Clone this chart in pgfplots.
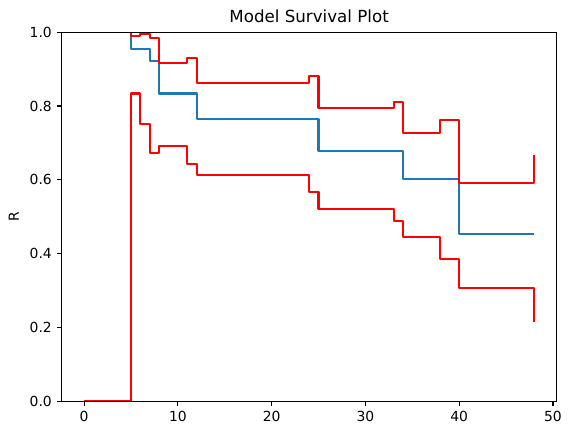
\documentclass[border=0pt]{standalone}
\usepackage{pgfplots}
\pgfplotsset{compat=1.18}
\usepackage{fontspec}
\setmainfont{DejaVu Sans}
\definecolor{mplblue}{HTML}{1F77B4}
\begin{document}
\begin{tikzpicture}
\begin{axis}[
  scale only axis,
  width=356.4pt, height=265.5pt,
  xmin=-2.4, xmax=50.4, ymin=0, ymax=1,
  xtick={0,10,20,30,40,50},
  ytick={0,0.2,0.4,0.6,0.8,1.0},
  yticklabel style={/pgf/number format/.cd,fixed,fixed zerofill,precision=1},
  /pgf/number format/assume math mode=true,
  tick align=outside,
  major tick length=3.5pt,
  tick style={black, line width=0.8pt},
  axis line style={line width=0.8pt},
  tick label style={font=\fontsize{10}{12}\selectfont},
  xtick pos=bottom, ytick pos=left,
  ylabel={R},
  ylabel style={font=\fontsize{10}{12}\selectfont, xshift=0pt, yshift=1pt},
  title={Model Survival Plot},
  title style={font=\fontsize{12}{14}\selectfont, yshift=-2.5pt},
  axis on top,
  clip=true,
  every axis plot/.append style={line join=round, line cap=butt},
]
\addplot[const plot, color=mplblue, line width=1.5pt] coordinates {
  (0,1) (5,0.954) (7,0.921) (8,0.834) (12,0.764) (25,0.678) (34,0.602) (40,0.453) (48,0.453)
};
\addplot[const plot, color=red, line width=1.5pt] coordinates {
  (0,1) (5,0.989) (6,0.996) (7,0.984) (8,0.916) (11,0.930) (12,0.863) (24,0.881) (25,0.795) (33,0.810) (34,0.727) (38,0.761) (40,0.592) (48,0.666)
};
\addplot[const plot, color=red, line width=1.5pt] coordinates {
  (0,0) (5,0.834) (6,0.751) (7,0.672) (8,0.691) (11,0.644) (12,0.613) (24,0.567) (25,0.520) (33,0.488) (34,0.446) (38,0.3845) (40,0.306) (48,0.215)
};
\end{axis}
\pgfresetboundingbox
\useasboundingbox ([shift={(-44.3pt,-24.5pt)}]current axis.south west) rectangle ([shift={(11pt,23.2pt)}]current axis.north east);
\end{tikzpicture}
\end{document}
